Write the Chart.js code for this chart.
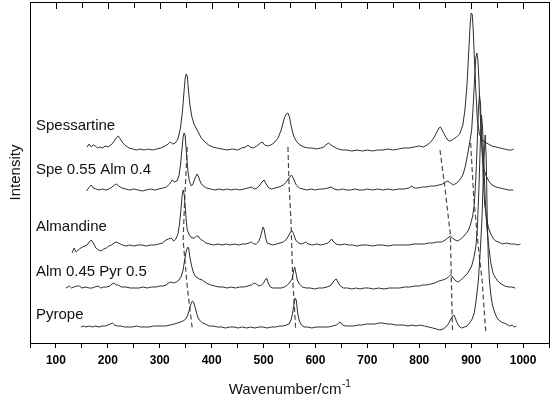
<!DOCTYPE html>
<html>
<head>
<meta charset="utf-8">
<script src="https://cdn.jsdelivr.net/npm/chart.js@4.4.0/dist/chart.umd.min.js"></script>
<style>
  html, body { margin: 0; padding: 0; background: #fff; }
  #chart { display: block; }
</style>
</head>
<body>
<canvas id="chart" width="554" height="397"></canvas>
<script>
// Raman spectra of garnets, [wavenumber, intensity above own baseline]
const sampleNames = ['Spessartine', 'Spe 0.55 Alm 0.4', 'Almandine', 'Alm 0.45 Pyr 0.5', 'Pyrope'];
const stackOffsets = [193, 153, 99, 55, 16];

const spessartine = [
    [160, 3], [164, 6], [168, 3], [172, 5], [176, 4], [180, 2], [185, 3], [190, 2], [195, 4], [200, 3],
    [206, 5], [211, 8], [216, 12], [220, 14], [224, 11], [229, 7], [235, 4], [241, 2], [248, 1], [255, 0],
    [262, 1], [270, 0], [278, 1], [286, 0], [294, 1], [302, 2], [310, 4], [316, 6], [320, 8], [325, 6],
    [330, 7], [335, 11], [340, 22], [344, 40], [347, 60], [349, 72], [351, 76], [353, 74], [355, 62], [358, 45],
    [362, 33], [366, 26], [370, 22], [375, 17], [380, 12], [387, 8], [394, 5], [402, 3], [410, 2], [420, 1],
    [430, 0], [440, 1], [450, 0], [458, 2], [466, 3], [470, 5], [474, 3], [480, 2], [487, 4], [494, 7],
    [498, 8], [502, 5], [508, 4], [514, 5], [520, 7], [528, 12], [534, 20], [540, 32], [544, 36], [547, 37],
    [550, 33], [554, 22], [558, 14], [563, 9], [570, 5], [578, 3], [586, 2], [594, 2], [602, 1], [610, 2],
    [616, 3], [620, 5], [625, 7], [630, 5], [636, 3], [644, 1], [652, 0], [660, 0], [670, -1], [680, 0],
    [690, -1], [700, 0], [710, -1], [720, 0], [730, 0], [740, 1], [750, 0], [760, 1], [770, 2], [780, 2],
    [790, 3], [800, 4], [808, 3], [815, 5], [822, 8], [828, 12], [834, 18], [838, 22], [841, 23], [845, 19],
    [850, 14], [855, 10], [860, 9], [866, 11], [872, 13], [878, 16], [884, 25], [888, 40], [892, 65], [895, 95],
    [898, 125], [900, 137], [902, 136], [904, 120], [906, 95], [909, 60], [912, 30], [916, 16], [921, 10], [927, 8],
    [933, 6], [940, 4], [948, 3], [956, 2], [964, 1], [972, 0], [978, 0], [982, 1]
];

const spe55alm40 = [
    [159, -1], [163, 2], [168, 5], [172, 2], [177, 1], [183, 0], [190, 1], [196, 0], [202, 1], [208, 3],
    [213, 5], [217, 6], [221, 4], [227, 2], [234, 1], [242, 0], [250, 1], [258, 0], [266, -1], [274, 0],
    [282, 1], [290, 0], [298, 1], [306, 2], [313, 3], [319, 6], [324, 10], [328, 8], [333, 9], [337, 14],
    [340, 25], [343, 42], [345, 53], [347, 57], [349, 54], [351, 40], [354, 20], [357, 9], [361, 4], [364, 6],
    [368, 12], [372, 16], [375, 13], [379, 7], [384, 4], [390, 2], [398, 1], [406, 0], [414, 1], [422, 0],
    [430, 1], [438, 0], [446, 1], [454, 0], [462, 1], [470, 2], [477, 3], [482, 1], [488, 2], [493, 5],
    [497, 8], [501, 10], [505, 6], [510, 2], [516, 1], [522, 2], [530, 3], [538, 5], [544, 8], [549, 12],
    [554, 15], [558, 11], [563, 5], [569, 2], [576, 1], [584, 0], [592, 1], [600, 0], [608, 1], [616, 1],
    [624, 2], [630, 3], [636, 1], [644, 0], [652, 1], [660, 0], [668, 0], [676, 1], [684, 0], [692, 0],
    [700, 1], [710, 0], [720, 1], [730, 0], [740, 1], [750, 0], [760, 1], [770, 1], [780, 2], [786, 4],
    [790, 2], [798, 2], [806, 3], [814, 3], [822, 4], [830, 4], [838, 5], [845, 6], [851, 8], [855, 9],
    [860, 7], [866, 5], [872, 7], [878, 10], [884, 15], [889, 24], [893, 35], [897, 47], [901, 60], [904, 85],
    [907, 115], [909, 132], [911, 137], [913, 130], [915, 110], [918, 70], [921, 40], [925, 20], [929, 14], [934, 9],
    [940, 5], [948, 3], [956, 2], [964, 1], [972, 0], [981, 0]
];

const almandine = [
    [131, -9], [135, -4], [139, -8], [145, -5], [151, -3], [156, -2], [160, -1], [164, 2], [168, 4], [172, 1],
    [177, -4], [182, -6], [187, -7], [192, -5], [197, -4], [202, -2], [207, -1], [212, 1], [216, 2], [220, 1],
    [224, 0], [228, -1], [235, -2], [242, -1], [250, -2], [258, -1], [266, -1], [274, -2], [282, -1], [290, -1],
    [298, 0], [305, 1], [312, 4], [317, 5], [322, 6], [327, 3], [331, 5], [335, 10], [338, 20], [341, 35],
    [343, 48], [345, 54], [347, 50], [349, 38], [351, 24], [353, 14], [357, 9], [362, 6], [367, 6], [371, 8],
    [374, 8], [378, 5], [384, 3], [389, 1], [396, 0], [404, -1], [412, 0], [420, -1], [428, 0], [436, -1],
    [444, 0], [452, -1], [460, 0], [466, 0], [472, 1], [477, 2], [481, 0], [486, 0], [490, 2], [494, 7],
    [497, 13], [499, 17], [501, 15], [504, 6], [507, 1], [512, 0], [518, -1], [525, 0], [532, 1], [538, 2],
    [543, 4], [548, 8], [552, 12], [555, 13], [558, 10], [562, 4], [567, 1], [573, 0], [578, 1], [581, 2],
    [586, 0], [594, -1], [602, 0], [610, -1], [618, 0], [624, 1], [628, 3], [631, 5], [635, 2], [640, 0],
    [648, -1], [656, 0], [664, -1], [672, -1], [680, -2], [690, -1], [700, -1], [710, -2], [720, -1], [730, -1],
    [740, -2], [750, -1], [760, -1], [770, -1], [780, -1], [790, 0], [800, 0], [810, 0], [818, 1], [826, 1],
    [834, 2], [843, 2], [850, 4], [855, 6], [860, 8], [864, 6], [869, 4], [874, 3], [880, 5], [886, 8],
    [891, 11], [895, 14], [899, 20], [903, 28], [906, 40], [909, 65], [912, 105], [914, 135], [916, 149], [918, 140],
    [920, 110], [923, 70], [926, 40], [929, 28], [933, 17], [937, 11], [942, 6], [947, 3], [953, 2], [960, 0],
    [968, 1], [976, 0], [984, 0], [990, -1], [995, 0]
];

const alm45pyr50 = [
    [119, 0], [123, 1], [126, 2], [130, 0], [135, 1], [140, 2], [145, 2], [150, 0], [158, 1], [164, 0],
    [170, 0], [175, 1], [181, 2], [186, 0], [192, 1], [198, 1], [204, 2], [208, 4], [212, 5], [216, 3],
    [220, 3], [226, 1], [235, 1], [243, 0], [252, 0], [260, 0], [268, 1], [276, 0], [284, 1], [293, 1],
    [300, 2], [306, 2], [312, 3], [317, 5], [322, 6], [327, 5], [332, 6], [337, 8], [341, 11], [345, 18],
    [348, 28], [351, 37], [354, 41], [356, 39], [358, 31], [361, 23], [364, 17], [367, 13], [370, 11], [376, 9],
    [382, 8], [390, 5], [398, 3], [406, 2], [414, 1], [422, 1], [430, 0], [438, 1], [446, 0], [454, 1],
    [462, 1], [470, 2], [477, 3], [482, 5], [486, 4], [491, 2], [496, 3], [500, 5], [503, 8], [506, 10],
    [509, 5], [513, 1], [518, 0], [526, 0], [534, 0], [540, 1], [546, 3], [551, 6], [555, 9], [558, 17],
    [560, 21], [562, 16], [565, 8], [569, 4], [575, 1], [582, 0], [590, 0], [598, -1], [606, 0], [614, 0],
    [622, 1], [628, 2], [633, 5], [637, 8], [640, 9], [643, 6], [648, 2], [654, 0], [662, 0], [670, -1],
    [678, 0], [686, -1], [694, 0], [702, 0], [712, -1], [722, 0], [732, -1], [742, 0], [752, 0], [762, 0],
    [772, 1], [782, 1], [792, 2], [800, 2], [806, 3], [814, 3], [822, 4], [830, 5], [838, 7], [845, 8],
    [851, 9], [856, 11], [860, 13], [863, 12], [867, 9], [871, 7], [875, 6], [880, 8], [886, 11], [892, 14],
    [897, 18], [901, 22], [905, 30], [909, 41], [912, 60], [915, 100], [918, 150], [920, 173], [922, 160], [924, 130],
    [927, 90], [930, 62], [934, 41], [938, 25], [942, 15], [946, 11], [951, 7], [958, 4], [965, 2], [972, 1],
    [978, 1], [985, 0]
];

const pyrope = [
    [148, 0], [153, 1], [158, 0], [164, 1], [170, 0], [176, 1], [183, 0], [189, 1], [195, 1], [200, 2],
    [205, 3], [209, 4], [213, 2], [218, 1], [225, 1], [232, 0], [240, 0], [247, 0], [255, 1], [263, 0],
    [271, 0], [280, 0], [288, 1], [296, 1], [304, 1], [312, 1], [320, 2], [328, 3], [334, 4], [340, 5],
    [345, 6], [350, 8], [354, 12], [357, 17], [360, 23], [363, 26], [365, 25], [368, 20], [371, 14], [374, 9],
    [378, 6], [383, 4], [388, 3], [395, 1], [403, 1], [411, 0], [419, 0], [427, -1], [435, 0], [443, 0],
    [451, -1], [459, 0], [467, -1], [475, 0], [483, -1], [491, 0], [499, 0], [507, -1], [515, 0], [523, 0],
    [531, 1], [538, 1], [544, 2], [549, 3], [553, 7], [556, 14], [559, 24], [561, 29], [563, 27], [566, 13],
    [569, 6], [573, 2], [578, 0], [585, 0], [593, -1], [601, 0], [609, 0], [617, 0], [625, 0], [633, 1],
    [640, 2], [645, 4], [648, 5], [652, 2], [658, 1], [666, 1], [674, 1], [682, 2], [690, 2], [698, 3],
    [706, 3], [714, 3], [722, 4], [730, 4], [738, 3], [746, 3], [754, 2], [762, 2], [770, 2], [778, 1],
    [786, 2], [794, 1], [802, 2], [810, 1], [818, 0], [826, -1], [833, -2], [840, -3], [846, -2], [851, 0],
    [856, 3], [860, 7], [864, 11], [867, 12], [870, 8], [874, 3], [878, 0], [882, -1], [887, 0], [892, 1],
    [897, 4], [902, 8], [906, 14], [910, 28], [914, 47], [918, 80], [921, 110], [924, 160], [927, 192], [929, 170],
    [931, 110], [933, 70], [935, 48], [938, 32], [941, 22], [945, 15], [949, 10], [953, 7], [958, 5], [963, 4],
    [968, 3], [974, 1], [979, 2], [983, 0], [987, 1]
];

// dashed guide lines following the band shifts, [wavenumber, absolute intensity]
const guide350 = [[353, 196], [348, 143], [345, 103], [353, 56], [363, 13]];
const guide550 = [[547, 196], [549, 160], [553, 120], [556, 66], [562, 13]];
const guide860 = [[840, 193], [850, 153], [860, 108], [862, 60], [864, 13]];
const guide910 = [[899, 200], [905, 146], [913, 100], [921, 63], [928, 12]];

const xTicks = { min: 50, max: 1050, step: 50 };

const spectra = [spessartine, spe55alm40, almandine, alm45pyr50, pyrope];
const guides = [guide350, guide550, guide860, guide910];

const datasets = [];
spectra.forEach(function(spec, i) {
    datasets.push({
        label: sampleNames[i],
        data: spec.map(p => ({ x: p[0], y: stackOffsets[i] + p[1] })),
        showLine: true,
        borderColor: '#2e2e2e',
        borderWidth: 1,
        pointRadius: 0,
        tension: 0
    });
});
guides.forEach(function(g) {
    datasets.push({
        data: g.map(p => ({ x: p[0], y: p[1] })),
        showLine: true,
        borderColor: '#4a4a4a',
        borderWidth: 1.2,
        borderDash: [5, 3],
        pointRadius: 0,
        tension: 0
    });
});

const fontFamily = "'Liberation Sans', Arial, sans-serif";

// sample names next to each trace, x title with superscript, inward top ticks
const annotations = {
    id: 'annotations',
    afterDraw(chart) {
        const ctx = chart.ctx;
        const area = chart.chartArea;
        const xs = chart.scales.x;
        const baselines = [130, 173.5, 231, 276, 319];
        ctx.save();

        // mirrored ticks on the top edge, pointing inward (filled rects)
        ctx.globalAlpha = 1;
        ctx.fillStyle = '#000';
        const top = Math.round(area.top);
        for (let v = xTicks.min + xTicks.step; v < xTicks.max; v += xTicks.step) {
            const px = Math.round(xs.getPixelForValue(v));
            const len = v % 100 === 0 ? 7 : 6;
            ctx.fillRect(px, top, 1, len);
        }

        ctx.fillStyle = '#111';
        ctx.font = '15px ' + fontFamily;
        ctx.textBaseline = 'alphabetic';
        ctx.textAlign = 'left';
        sampleNames.forEach((name, i) => {
            ctx.fillText(name, area.left + 6, baselines[i]);
        });

        // x axis title
        const main = 'Wavenumber/cm';
        const sup = '-1';
        ctx.font = '15px ' + fontFamily;
        const wMain = ctx.measureText(main).width;
        ctx.font = '10px ' + fontFamily;
        const wSup = ctx.measureText(sup).width;
        const startX = (area.left + area.right) / 2 - (wMain + wSup) / 2;
        ctx.font = '15px ' + fontFamily;
        ctx.fillText(main, startX, 394);
        ctx.font = '10px ' + fontFamily;
        ctx.fillText(sup, startX + wMain + 0.5, 387);
        ctx.restore();
    }
};

new Chart(document.getElementById('chart'), {
    type: 'scatter',
    data: { datasets: datasets },
    options: {
        responsive: false,
        animation: false,
        devicePixelRatio: 1,
        layout: { padding: { top: 0, right: 4, bottom: 0, left: 0 } },
        plugins: {
            legend: { display: false },
            tooltip: { enabled: false }
        },
        scales: {
            x: {
                type: 'linear',
                position: 'bottom',
                min: xTicks.min,
                max: xTicks.max,
                afterFit: s => { s.height = 54; },
                ticks: {
                    stepSize: xTicks.step,
                    autoSkip: false,
                    maxRotation: 0,
                    padding: 5,
                    color: '#000',
                    font: { family: fontFamily, size: 12, weight: 'bold' },
                    callback: v => (v % 100 === 0 ? String(v) : '')
                },
                grid: {
                    drawOnChartArea: false,
                    tickLength: 5,
                    tickColor: '#000'
                },
                border: { display: true, color: '#000', width: 1 }
            },
            x2: {
                type: 'linear',
                position: 'top',
                min: xTicks.min,
                max: xTicks.max,
                afterFit: s => { s.height = 2; },
                ticks: { display: false },
                grid: { display: false },
                border: { display: true, color: '#000', width: 1 }
            },
            y: {
                type: 'linear',
                position: 'left',
                min: 0,
                max: 341,
                afterFit: s => { s.width = 30; },
                ticks: { display: false },
                grid: { drawOnChartArea: false, drawTicks: false },
                border: { display: true, color: '#000', width: 1 },
                title: {
                    display: true,
                    text: 'Intensity',
                    color: '#111',
                    font: { family: fontFamily, size: 15 },
                    padding: { top: 7, bottom: 0 }
                }
            },
            y2: {
                type: 'linear',
                position: 'right',
                min: 0,
                max: 341,
                afterFit: s => { s.width = 0; },
                ticks: { display: false },
                grid: { drawOnChartArea: false, drawTicks: false },
                border: { display: true, color: '#000', width: 1 }
            }
        }
    },
    plugins: [annotations]
});
</script>
</body>
</html>
